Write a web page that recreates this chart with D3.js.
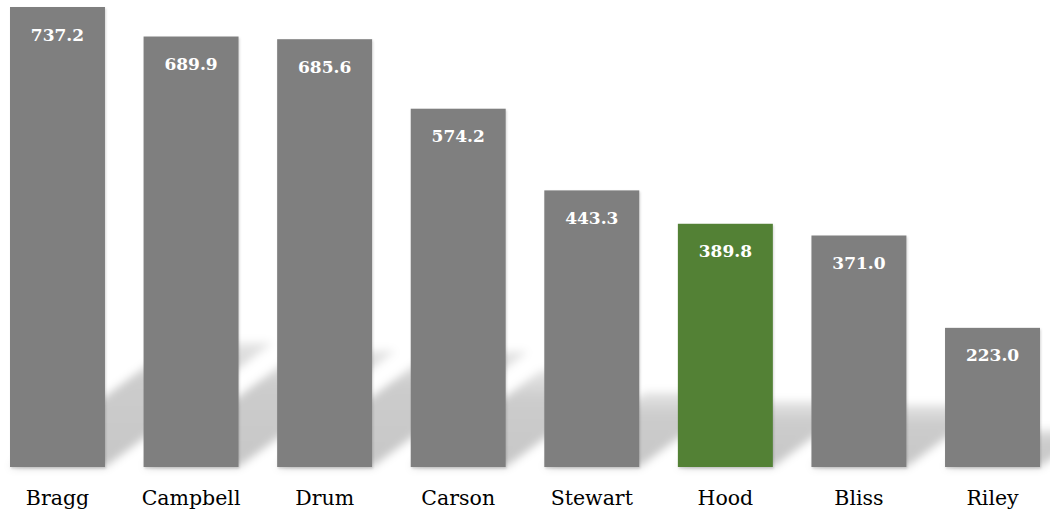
<!DOCTYPE html>
<html>
<head>
<meta charset="utf-8">
<script src="https://cdn.jsdelivr.net/npm/d3@7"></script>
<style>
  html, body { margin: 0; padding: 0; background: #fff; }
  svg { display: block; }
</style>
</head>
<body>
<svg id="chart" width="1050" height="511"></svg>
<script>
const categories = ["Bragg", "Campbell", "Drum", "Carson", "Stewart", "Hood", "Bliss", "Riley"];
const values = [737.2, 689.9, 685.6, 574.2, 443.3, 389.8, 371.0, 223.0];
const highlight = "Hood";

const svg = d3.select("#chart");
const defs = svg.append("defs");

const x = d3.scaleBand()
  .domain(categories)
  .range([-9.3, 1059.3])
  .paddingInner(0.289)
  .paddingOuter(0.1445);

const y = d3.scaleLinear()
  .domain([0, 737.2])
  .range([467, 7]);

const blur = defs.append("filter").attr("id", "pblur")
  .attr("x", "-30%").attr("y", "-30%").attr("width", "160%").attr("height", "160%");
blur.append("feGaussianBlur").attr("stdDeviation", 4);

const edge = defs.append("filter").attr("id", "edge")
  .attr("x", "-10%").attr("y", "-10%").attr("width", "120%").attr("height", "120%");
edge.append("feDropShadow").attr("dx", 1).attr("dy", 1.5).attr("stdDeviation", 1)
  .attr("flood-color", "#000").attr("flood-opacity", 0.16);

const data = categories.map((c, i) => ({ c, v: values[i] }));

const sy = 0.27, kx = 1.35;
const base = y(0);

data.forEach((d, i) => {
  const g = defs.append("linearGradient").attr("id", "sg" + i)
    .attr("gradientUnits", "userSpaceOnUse")
    .attr("x1", 0).attr("x2", 0)
    .attr("y1", base).attr("y2", base - (base - y(d.v)) * sy);
  g.append("stop").attr("offset", "0%").attr("stop-color", "#000").attr("stop-opacity", 0.22);
  g.append("stop").attr("offset", "70%").attr("stop-color", "#000").attr("stop-opacity", 0.2);
  g.append("stop").attr("offset", "100%").attr("stop-color", "#000").attr("stop-opacity", 0.1);
});

svg.append("g").selectAll("path").data(data).join("path")
  .attr("d", (d) => {
    const x0 = x(d.c), x1 = x(d.c) + x.bandwidth();
    const h = (base - y(d.v)) * sy;
    const s = h * kx;
    return `M${x0},${base}L${x1},${base}L${x1 + s},${base - h}L${x0 + s},${base - h}Z`;
  })
  .attr("fill", (d, i) => `url(#sg${i})`)
  .attr("filter", "url(#pblur)");

svg.append("g").selectAll("rect").data(data).join("rect")
  .attr("x", d => x(d.c))
  .attr("y", d => y(d.v))
  .attr("width", x.bandwidth())
  .attr("height", d => base - y(d.v))
  .attr("fill", d => d.c === highlight ? "#538135" : "#7f7f7f")
  .attr("filter", "url(#edge)");

svg.append("g").selectAll("text").data(data).join("text")
  .attr("x", d => x(d.c) + x.bandwidth() / 2)
  .attr("y", d => y(d.v) + 33.5)
  .attr("text-anchor", "middle")
  .attr("fill", "#fff")
  .style("font-family", "DejaVu Serif")
  .style("font-weight", "bold")
  .style("font-size", "17px")
  .text(d => d3.format(".1f")(d.v));

const xAxis = d3.axisBottom(x).tickSize(0).tickPadding(0);
const ax = svg.append("g").attr("transform", `translate(0,${base})`).call(xAxis);
ax.attr("font-family", null).attr("font-size", null);
ax.select(".domain").remove();
ax.selectAll("text")
  .attr("y", 37.5)
  .attr("dy", 0)
  .attr("fill", "#000")
  .style("font-family", "DejaVu Serif")
  .style("font-size", "20.5px");
</script>
</body>
</html>
